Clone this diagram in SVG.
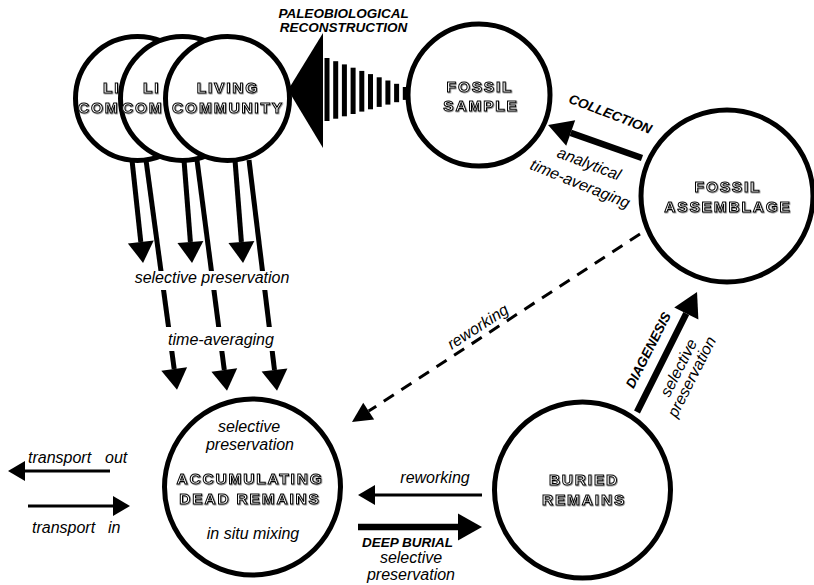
<svg xmlns="http://www.w3.org/2000/svg" width="814" height="585" viewBox="0 0 814 585">
<style>
.nd{fill:#fff;stroke:#000;stroke-width:5}
.ol{font-family:"Liberation Sans",Arial,sans-serif;font-weight:bold;font-size:15.5px;letter-spacing:1.8px;fill:#fff;stroke:#000;stroke-width:1;filter:url(#sh)}
.c{text-anchor:middle}
.it{font-family:"Liberation Sans",Arial,sans-serif;font-style:italic;font-size:16px;fill:#000}
.bi{font-family:"Liberation Sans",Arial,sans-serif;font-style:italic;font-weight:bold;font-size:13.5px;fill:#000}
.mid{text-anchor:middle}
.thick{stroke:#000;stroke-width:5;fill:none}
.heavy{stroke:#000;stroke-width:6.5;fill:none}
.thin{stroke:#000;stroke-width:3;fill:none}
.dash{stroke:#000;stroke-width:3;fill:none;stroke-dasharray:12 9}
</style>
<defs>
<filter id="sh" x="-10%" y="-30%" width="120%" height="160%"><feDropShadow dx="0.7" dy="0.7" stdDeviation="0.25" flood-color="#555" flood-opacity="0.8"/></filter>
<marker id="aBig" markerUnits="userSpaceOnUse" markerWidth="22" markerHeight="26" refX="0" refY="13" orient="auto" overflow="visible"><path d="M0,0 L21,13 L0,26 z" fill="#000"/></marker>
<marker id="aHeavy" markerUnits="userSpaceOnUse" markerWidth="25" markerHeight="27" refX="0" refY="13.5" orient="auto" overflow="visible"><path d="M0,0 L24,13.5 L0,27 z" fill="#000"/></marker>
<marker id="aThin" markerUnits="userSpaceOnUse" markerWidth="18" markerHeight="20" refX="0" refY="10" orient="auto" overflow="visible"><path d="M0,0 L17,10 L0,20 z" fill="#000"/></marker>
<marker id="aDash" markerUnits="userSpaceOnUse" markerWidth="21" markerHeight="20" refX="0" refY="10" orient="auto" overflow="visible"><path d="M0,0 L20,10 L0,20 z" fill="#000"/></marker>
</defs>
<rect width="814" height="585" fill="#fff"/>

<g id="connectors">
  <line class="thick" x1="132" y1="160" x2="140.8" y2="242" marker-end="url(#aBig)"/>
  <line class="thick" x1="146" y1="160" x2="174.2" y2="369" marker-end="url(#aBig)"/>
  <line class="thick" x1="184" y1="160" x2="190.4" y2="242" marker-end="url(#aBig)"/>
  <line class="thick" x1="197" y1="160" x2="224.3" y2="370" marker-end="url(#aBig)"/>
  <line class="thick" x1="235" y1="160" x2="241.4" y2="242" marker-end="url(#aBig)"/>
  <line class="thick" x1="249" y1="160" x2="274.5" y2="370" marker-end="url(#aBig)"/>
  <g id="reconstruction" fill="#000">
    <polygon points="288,90 323,33 323,148"/>
    <rect x="324.5" y="58" width="5" height="63"/>
    <rect x="333.2" y="61.2" width="5" height="57.5"/>
    <rect x="341.9" y="64.4" width="5" height="51.9"/>
    <rect x="350.6" y="67.7" width="5" height="46.3"/>
    <rect x="359.3" y="70.9" width="5" height="40.7"/>
    <rect x="368" y="74.1" width="5" height="35.2"/>
    <rect x="376.7" y="77.3" width="5" height="29.6"/>
    <rect x="385.4" y="80.5" width="5" height="24.1"/>
    <rect x="394.1" y="83.8" width="5" height="18.4"/>
    <rect x="402.8" y="87" width="5" height="12.9"/>
  </g>
  <line class="heavy" x1="642" y1="158" x2="570.7" y2="132.9" marker-end="url(#aHeavy)"/>
  <line class="dash" x1="640" y1="234" x2="368.7" y2="411.1" marker-end="url(#aDash)"/>
  <line class="heavy" x1="637" y1="412" x2="686.3" y2="313.5" marker-end="url(#aHeavy)"/>
  <line class="thin" x1="482" y1="495" x2="375" y2="495" marker-end="url(#aThin)"/>
  <line class="heavy" x1="358" y1="527" x2="458" y2="527" marker-end="url(#aHeavy)"/>
  <line class="thin" x1="110" y1="471" x2="25" y2="471" marker-end="url(#aThin)"/>
  <line class="thin" x1="28" y1="506" x2="113" y2="506" marker-end="url(#aThin)"/>
</g>

<g id="living1">
  <circle class="nd" cx="137.5" cy="98.5" r="62"/>
  <text class="ol" x="103" y="92.5">LI</text>
  <text class="ol" x="78" y="113">COM</text>
</g>
<g id="living2">
  <circle class="nd" cx="182.5" cy="98.5" r="62"/>
  <text class="ol" x="143" y="92.5">LI</text>
  <text class="ol" x="122" y="113">COM</text>
</g>
<g id="living3">
  <circle class="nd" cx="227.5" cy="98.5" r="62"/>
  <text class="ol c" x="228" y="92.5">LIVING</text>
  <text class="ol c" x="228" y="113">COMMUNITY</text>
</g>
<g id="fossil-sample">
  <circle class="nd" cx="479" cy="95" r="71"/>
  <text class="ol c" x="480" y="91.5">FOSSIL</text>
  <text class="ol c" x="481" y="111">SAMPLE</text>
</g>
<g id="fossil-assemblage">
  <circle class="nd" cx="727" cy="196" r="86"/>
  <text class="ol c" x="728" y="191.5">FOSSIL</text>
  <text class="ol c" x="728" y="211.5">ASSEMBLAGE</text>
</g>
<g id="accumulating">
  <circle class="nd" cx="252.5" cy="487" r="88"/>
  <text class="it mid" x="249" y="432">selective</text>
  <text class="it mid" x="250" y="450">preservation</text>
  <text class="ol c" x="250" y="484">ACCUMULATING</text>
  <text class="ol c" x="250" y="504">DEAD REMAINS</text>
  <text class="it mid" x="253" y="539">in situ mixing</text>
</g>
<g id="buried">
  <circle class="nd" cx="582.5" cy="490" r="88"/>
  <text class="ol c" x="584" y="485">BURIED</text>
  <text class="ol c" x="584" y="505">REMAINS</text>
</g>

<g id="labels">
  <text class="bi mid" x="343.5" y="18">PALEOBIOLOGICAL</text>
  <text class="bi mid" x="343.5" y="31.5">RECONSTRUCTION</text>
  <text class="bi mid" transform="translate(610.5,113.5) rotate(21)" y="5">COLLECTION</text>
  <text class="it mid" transform="translate(589,164) rotate(21)" y="5">analytical</text>
  <text class="it mid" transform="translate(580,184) rotate(22)" y="5">time-averaging</text>
  <rect x="133" y="271" width="158" height="19" fill="#fff"/>
  <text class="it mid" x="212" y="283">selective preservation</text>
  <rect x="164" y="327" width="114" height="24" fill="#fff"/>
  <text class="it mid" x="221" y="345">time-averaging</text>
  <text class="it mid" transform="translate(478,327) rotate(-33)" y="5">reworking</text>
  <text class="bi mid" transform="translate(648,350) rotate(-63)" y="5">DIAGENESIS</text>
  <text class="it mid" transform="translate(679,368) rotate(-63)" y="5">selective</text>
  <text class="it mid" transform="translate(692,377) rotate(-63)" y="5">preservation</text>
  <text class="it mid" x="435" y="483">reworking</text>
  <text class="bi" x="362" y="547">DEEP BURIAL</text>
  <text class="it mid" x="411" y="563">selective</text>
  <text class="it mid" x="411" y="580">preservation</text>
  <text class="it" x="28" y="463">transport<tspan x="105">out</tspan></text>
  <text class="it" x="32" y="533">transport<tspan x="108">in</tspan></text>
</g>
</svg>
